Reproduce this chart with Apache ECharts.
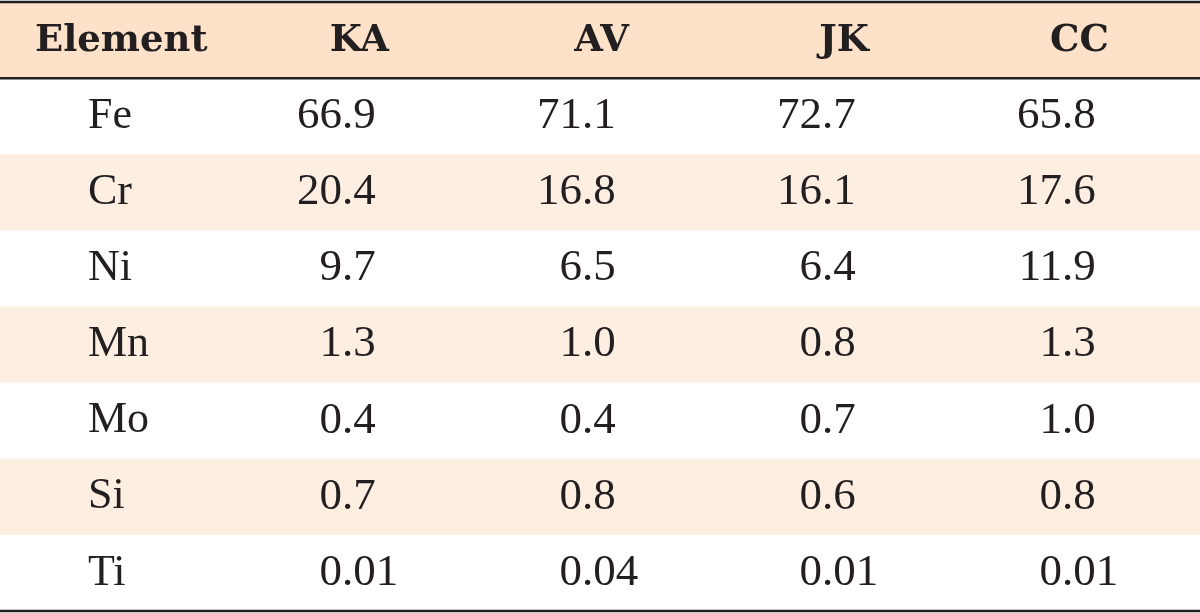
<!DOCTYPE html>
<html>
<head>
<meta charset="utf-8">
<script src="https://cdn.jsdelivr.net/npm/echarts@6/dist/echarts.min.js"></script>
<style>
html,body{margin:0;padding:0;background:#fff;}
#chart{width:1200px;height:613px;}
</style>
</head>
<body>
<div id="chart"></div>
<script>
// ---- data ----
const columns = ['Element', 'KA', 'AV', 'JK', 'CC'];
const elements = ['Fe', 'Cr', 'Ni', 'Mn', 'Mo', 'Si', 'Ti'];
const KA = ['66.9', '20.4', '9.7', '1.3', '0.4', '0.7', '0.01'];
const AV = ['71.1', '16.8', '6.5', '1.0', '0.4', '0.8', '0.04'];
const JK = ['72.7', '16.1', '6.4', '0.8', '0.7', '0.6', '0.01'];
const CC = ['65.8', '17.6', '11.9', '1.3', '1.0', '0.8', '0.01'];

// ---- build ----
const rowCats = ['__header__'].concat(elements);
const valueCols = [KA, AV, JK, CC];
const TEXT = '#231f20';
const HEAD_BG = '#fde1c9';
const STRIPE_BG = '#fdeee2';
const DATA_FONT = '"Liberation Serif", serif';
const HEAD_FONT = '"DejaVu Serif", serif';

const bandData = rowCats.map((r, i) => [0, i]);
const cellData = [];
valueCols.forEach((col, c) => {
  col.forEach((v, r) => cellData.push([c + 1, r + 1, v]));
});
const labelData = elements.map((e, r) => [0, r + 1, e]);
const headData = columns.map((h, c) => [c, 0, h]);

const chart = echarts.init(document.getElementById('chart'), null, {renderer: 'canvas'});
chart.setOption({
  animation: false,
  backgroundColor: '#ffffff',
  grid: {left: 0, right: 0, top: 2, bottom: 2},
  xAxis: {type: 'category', data: columns, show: false},
  yAxis: {type: 'category', data: rowCats, inverse: true, show: false},
  series: [
    {
      type: 'custom',
      data: bandData,
      silent: true,
      z: 1,
      renderItem: function (params, api) {
        const i = api.value(1);
        const cs = params.coordSys;
        const cy = api.coord([0, i])[1];
        const h = api.size([0, 1])[1];
        const children = [];
        let fill = null;
        if (i === 0) fill = HEAD_BG;
        else if (i % 2 === 0) fill = STRIPE_BG;
        if (fill) {
          children.push({type: 'rect', shape: {x: cs.x, y: cy - h / 2, width: cs.width, height: h}, style: {fill: fill}});
        }
        if (i === 0) {
          children.push({type: 'line', shape: {x1: cs.x, y1: cy - h / 2, x2: cs.x + cs.width, y2: cy - h / 2}, style: {stroke: TEXT, lineWidth: 2.5}});
          children.push({type: 'line', shape: {x1: cs.x, y1: cy + h / 2, x2: cs.x + cs.width, y2: cy + h / 2}, style: {stroke: TEXT, lineWidth: 2.5}});
        }
        if (i === rowCats.length - 1) {
          children.push({type: 'line', shape: {x1: cs.x, y1: cy + h / 2, x2: cs.x + cs.width, y2: cy + h / 2}, style: {stroke: TEXT, lineWidth: 2.5}});
        }
        return {type: 'group', children: children};
      }
    },
    {
      type: 'custom',
      data: headData,
      silent: true,
      z: 3,
      renderItem: function (params, api) {
        const c = api.value(0);
        const p = api.coord([c, 0]);
        const txt = headData[params.dataIndex][2];
        const isFirst = c === 0;
        return {
          type: 'text',
          style: {
            x: isFirst ? p[0] - 85 : p[0] + 29,
            y: p[1] + 1,
            text: txt,
            font: 'bold 37px ' + HEAD_FONT,
            fill: TEXT,
            align: isFirst ? 'left' : 'right',
            verticalAlign: 'middle'
          }
        };
      }
    },
    {
      type: 'custom',
      data: labelData,
      silent: true,
      z: 3,
      renderItem: function (params, api) {
        const p = api.coord([0, api.value(1)]);
        return {
          type: 'text',
          style: {
            x: p[0] - 32, y: p[1],
            text: labelData[params.dataIndex][2],
            font: '44px ' + DATA_FONT,
            fill: TEXT, align: 'left', verticalAlign: 'middle'
          }
        };
      }
    },
    {
      type: 'custom',
      data: cellData,
      silent: true,
      z: 3,
      renderItem: function (params, api) {
        const p = api.coord([api.value(0), api.value(1)]);
        const s = cellData[params.dataIndex][2];
        const k = s.indexOf('.');
        const intPart = s.slice(0, k);
        const fracPart = s.slice(k);
        const dx = p[0] - 18;
        return {
          type: 'group',
          children: [
            {type: 'text', style: {x: dx, y: p[1], text: intPart, font: '45px ' + DATA_FONT, fill: TEXT, align: 'right', verticalAlign: 'middle'}},
            {type: 'text', style: {x: dx, y: p[1], text: fracPart, font: '45px ' + DATA_FONT, fill: TEXT, align: 'left', verticalAlign: 'middle'}}
          ]
        };
      }
    }
  ]
});
</script>
</body>
</html>
